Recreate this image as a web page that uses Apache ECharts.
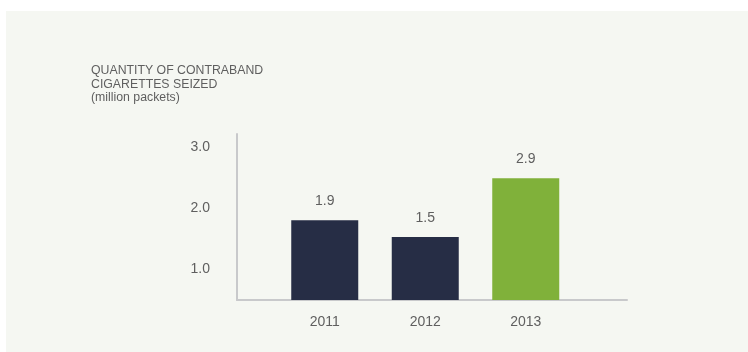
<!DOCTYPE html>
<html><head><meta charset="utf-8">
<script src="https://cdn.jsdelivr.net/npm/echarts@6/dist/echarts.min.js"></script>
<style>html,body{margin:0;padding:0;background:#fff;}#c{width:748px;height:352px;}</style>
</head><body><div id="c"></div>
<script>
const categories = ['2011', '2012', '2013'];
const values = [1.9, 1.5, 2.9];
const yTickValues = [1, 2, 3];
const yTickLabels = ['1.0', '2.0', '3.0'];
const titleLines = ['QUANTITY OF CONTRABAND', 'CIGARETTES SEIZED', '(million packets)'];

const barColors = ['#262d45', '#262d45', '#80b13a'];
const textColor = '#5f5f5f';
const font = 'Liberation Sans, Arial, Helvetica, sans-serif';

const chart = echarts.init(document.getElementById('c'), null, {renderer: 'canvas'});
chart.setOption({
  backgroundColor: '#ffffff',
  animation: false,
  graphic: [
    {type: 'rect', z: -10, shape: {x: 6, y: 11, width: 742, height: 341}, style: {fill: '#f5f7f2'}},
    {type: 'text', left: 91, top: 64, style: {text: titleLines.join('\n'), fill: textColor, font: '12.3px ' + font, lineHeight: 13.5}}
  ],
  grid: [
    {left: 237, right: 121, top: 134, bottom: 52},
    {left: 237, right: 121, top: 147, bottom: 22.5},
    {left: 274.5, width: 301.5, top: 153, bottom: 52}
  ],
  xAxis: [
    {gridIndex: 0, type: 'value', min: 0, max: 1, axisLine: {show: true, onZero: false, lineStyle: {color: '#c8c9cb', width: 2}}, axisTick: {show: false}, axisLabel: {show: false}, splitLine: {show: false}},
    {gridIndex: 1, type: 'value', min: 0, max: 1, show: false},
    {gridIndex: 2, type: 'category', data: categories, axisLine: {show: false}, axisTick: {show: false},
      axisLabel: {color: textColor, fontSize: 14, fontFamily: font, margin: 15}}
  ],
  yAxis: [
    {gridIndex: 0, type: 'value', min: 0, max: 1, axisLine: {show: true, onZero: false, lineStyle: {color: '#c8c9cb', width: 2}}, axisTick: {show: false}, axisLabel: {show: false}, splitLine: {show: false}},
    {gridIndex: 1, type: 'value', min: 0, max: 3, interval: 1, axisLine: {show: false}, axisTick: {show: false}, splitLine: {show: false},
      axisLabel: {showMinLabel: false, color: textColor, fontSize: 14, fontFamily: font, margin: 27,
        formatter: v => { const i = yTickValues.indexOf(v); return i >= 0 ? yTickLabels[i] : ''; }}},
    {gridIndex: 2, type: 'value', min: 0, max: 3.5, show: false}
  ],
  series: [{
    type: 'bar', xAxisIndex: 2, yAxisIndex: 2, barWidth: 67,
    data: values.map((v, i) => ({value: v, itemStyle: {color: barColors[i]}})),
    label: {show: true, position: 'top', distance: 12, color: textColor, fontSize: 14, fontFamily: font, formatter: p => p.value.toFixed(1)}
  }]
});
</script></body></html>
